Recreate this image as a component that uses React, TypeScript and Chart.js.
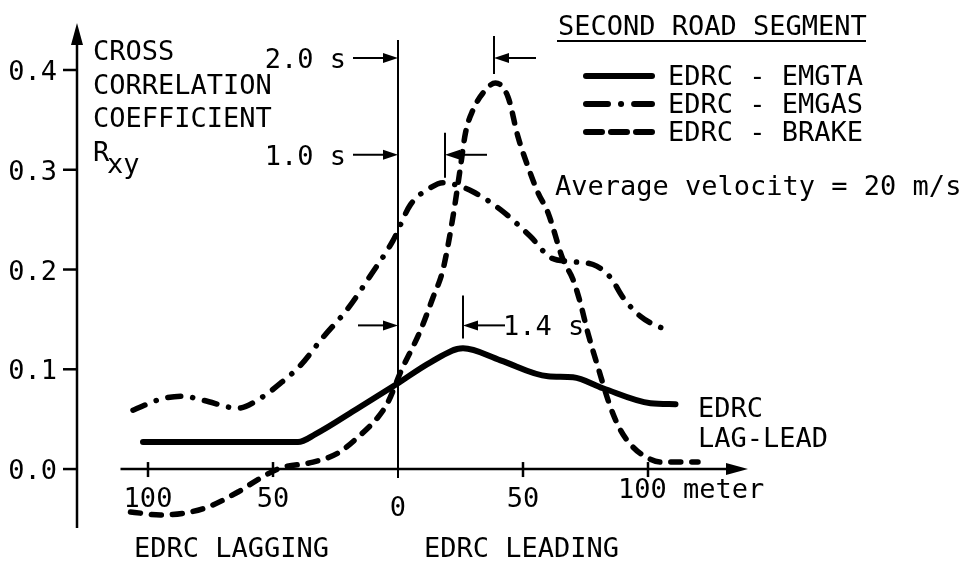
import React, { useEffect, useRef } from "react";
import { Chart, registerables } from "chart.js";
Chart.register(...registerables);

// ---- data (lag in metres, cross-correlation coefficient) ----
const emgtaX = [-102, -40, -33, -16, 0, 13, 26, 41, 60, 70, 82, 101, 111];
const emgtaY = [0.027, 0.027, 0.035, 0.061, 0.086, 0.107, 0.121, 0.109, 0.093, 0.092, 0.081, 0.066, 0.065];

const emgasX = [-106, -95, -86, -78, -64, -55, -47, -39, -30, -20, -11, -2, 5, 13, 18, 23, 30, 41, 53, 61, 69, 78, 85, 90, 97, 105, 108];
const emgasY = [0.059, 0.070, 0.073, 0.069, 0.061, 0.071, 0.086, 0.104, 0.132, 0.161, 0.194, 0.229, 0.265, 0.282, 0.287, 0.285, 0.278, 0.260, 0.233, 0.212, 0.208, 0.205, 0.192, 0.172, 0.153, 0.142, 0.140];

const brakeX = [-107, -95, -85, -76, -64, -55, -47, -34, -24, -16, -8, -4, 1, 9, 14, 18, 22, 25, 27, 30, 34, 39, 44, 48, 52, 56, 60, 66, 70, 73, 76, 80, 85, 89, 94, 100, 105, 120];
const brakeY = [-0.043, -0.046, -0.044, -0.038, -0.023, -0.009, 0.001, 0.007, 0.016, 0.032, 0.052, 0.067, 0.097, 0.139, 0.172, 0.200, 0.253, 0.303, 0.337, 0.360, 0.377, 0.387, 0.373, 0.333, 0.303, 0.277, 0.257, 0.210, 0.190, 0.166, 0.136, 0.102, 0.062, 0.039, 0.022, 0.011, 0.007, 0.007];

const seriesNames = ["EDRC - EMGTA", "EDRC - EMGAS", "EDRC - BRAKE"];

const yTickValues = [0, 0.1, 0.2, 0.3, 0.4];
const yTickLabels = ["0.0", "0.1", "0.2", "0.3", "0.4"];
const xTickValues = [-100, -50, 0, 50, 100];
const xTickLabels = ["100", "50", "0", "50", "100 meter"];

// peak lags marked on the chart
const peakLags = [38.4, 18.8, 26];
const peakLabels = ["2.0 s", "1.0 s", "1.4 s"];
const peakLabelLevels = [0.412, 0.315, 0.144];

const yTitle = ["CROSS", "CORRELATION", "COEFFICIENT"];
const legendTitle = "SECOND ROAD SEGMENT";
const noteText = "Average velocity = 20 m/s";

const FONT_PX = 27;
const FONT = `${FONT_PX}px "DejaVu Sans Mono"`;
const DASH = [10, 11];
const DASHDOT = [13, 12, 0.1, 12];

function zip(xs: number[], ys: number[]) {
  return xs.map((x, i) => ({ x, y: ys[i] }));
}

function txt(ctx: CanvasRenderingContext2D, s: string, x: number, cy: number, align: CanvasTextAlign = "left", font = FONT) {
  ctx.font = font;
  ctx.textAlign = align;
  ctx.textBaseline = "alphabetic";
  ctx.fillText(s, x, cy + 10);
}

function hArrow(ctx: CanvasRenderingContext2D, from: number, to: number, y: number) {
  const dir = to > from ? 1 : -1;
  ctx.lineWidth = 2;
  ctx.setLineDash([]);
  ctx.beginPath();
  ctx.moveTo(from, y);
  ctx.lineTo(to - dir * 10, y);
  ctx.stroke();
  ctx.beginPath();
  ctx.moveTo(to, y);
  ctx.lineTo(to - dir * 15, y - 5);
  ctx.lineTo(to - dir * 15, y + 5);
  ctx.closePath();
  ctx.fill();
}

function vLine(ctx: CanvasRenderingContext2D, x: number, y1: number, y2: number, w = 2) {
  ctx.lineWidth = w;
  ctx.setLineDash([]);
  ctx.beginPath();
  ctx.moveTo(x, y1);
  ctx.lineTo(x, y2);
  ctx.stroke();
}

const axesPlugin = {
  id: "customAxes",
  beforeDatasetsDraw(chart: any) {
    const ctx: CanvasRenderingContext2D = chart.ctx;
    const xs = chart.scales.x;
    const ys = chart.scales.y;
    const area = chart.chartArea;
    ctx.save();
    ctx.strokeStyle = "#000";
    ctx.fillStyle = "#000";
    ctx.lineCap = "butt";
    // y axis
    const ax = area.left;
    vLine(ctx, ax, area.bottom, area.top + 18, 2.5);
    ctx.beginPath();
    ctx.moveTo(ax, area.top - 2);
    ctx.lineTo(ax - 6, area.top + 20);
    ctx.lineTo(ax + 6, area.top + 20);
    ctx.closePath();
    ctx.fill();
    yTickValues.forEach((v, i) => {
      const py = ys.getPixelForValue(v);
      ctx.lineWidth = 2.5;
      ctx.beginPath();
      ctx.moveTo(ax - 14, py);
      ctx.lineTo(ax, py);
      ctx.stroke();
      txt(ctx, yTickLabels[i], ax - 20, py, "right");
    });
    // x axis
    const y0 = ys.getPixelForValue(0);
    const xStart = xs.getPixelForValue(-111);
    const xEnd = area.right;
    ctx.lineWidth = 2.5;
    ctx.beginPath();
    ctx.moveTo(xStart, y0);
    ctx.lineTo(xEnd - 15, y0);
    ctx.stroke();
    ctx.beginPath();
    ctx.moveTo(xEnd, y0);
    ctx.lineTo(xEnd - 22, y0 - 6);
    ctx.lineTo(xEnd - 22, y0 + 6);
    ctx.closePath();
    ctx.fill();
    xTickValues.forEach((v, i) => {
      const px = xs.getPixelForValue(v);
      if (v !== 0) vLine(ctx, px, y0 - 7, y0 + 8, 2.5);
      const lab = xTickLabels[i];
      if (i === xTickLabels.length - 1) {
        txt(ctx, lab, px - 30, y0 + 19, "left");
      } else if (v === 0) {
        txt(ctx, lab, px, y0 + 37, "center");
      } else {
        txt(ctx, lab, px, y0 + 28, "center");
      }
    });
    // zero-lag line
    const zx = xs.getPixelForValue(0);
    vLine(ctx, zx, ys.getPixelForValue(0.43), y0 + 9, 2);
    ctx.restore();
  },
  afterDatasetsDraw(chart: any) {
    const ctx: CanvasRenderingContext2D = chart.ctx;
    const xs = chart.scales.x;
    const ys = chart.scales.y;
    const area = chart.chartArea;
    ctx.save();
    ctx.strokeStyle = "#000";
    ctx.fillStyle = "#000";
    const zx = xs.getPixelForValue(0);

    // y axis title
    const tx = area.left + 16;
    yTitle.forEach((s, i) => txt(ctx, s, tx, ys.getPixelForValue(0.42) + i * 33.5));
    const rY = ys.getPixelForValue(0.42) + 3 * 33.5;
    txt(ctx, "R", tx, rY);
    ctx.font = FONT;
    ctx.textAlign = "left";
    ctx.fillText("xy", tx + 14, rY + 22);

    // peak-lag annotations
    peakLabels.forEach((lab, i) => {
      const py = ys.getPixelForValue(peakLabelLevels[i]);
      const mx = xs.getPixelForValue(peakLags[i]);
      if (i < 2) {
        txt(ctx, lab, zx - 52, py, "right");
        hArrow(ctx, zx - 45, zx, py);
        vLine(ctx, mx, py - 22, py + (i === 0 ? 16 : 23), 2);
        hArrow(ctx, mx + 42, mx, py);
      } else {
        hArrow(ctx, zx - 40, zx, py);
        vLine(ctx, mx, py - 30, py + 13, 2);
        hArrow(ctx, mx + 42, mx, py);
        txt(ctx, lab, mx + 40, py, "left");
      }
    });

    // legend
    const lx = 558;
    txt(ctx, legendTitle, lx, 25);
    ctx.lineWidth = 2;
    ctx.setLineDash([]);
    ctx.beginPath();
    ctx.moveTo(lx - 1, 41);
    ctx.lineTo(lx + 308, 41);
    ctx.stroke();
    const rows = [76, 104, 132];
    const sx1 = 586;
    const sx2 = 652;
    ctx.lineWidth = 6;
    ctx.lineCap = "round";
    rows.forEach((ry, i) => {
      if (i === 0) {
        ctx.setLineDash([]);
      } else if (i === 1) {
        ctx.setLineDash([22, 13, 0.1, 13]);
      } else {
        ctx.setLineDash([16, 9]);
      }
      ctx.beginPath();
      ctx.moveTo(sx1, ry);
      ctx.lineTo(sx2, ry);
      ctx.stroke();
      ctx.setLineDash([]);
      txt(ctx, seriesNames[i], 668, ry - 1);
    });
    ctx.lineCap = "butt";

    txt(ctx, noteText, 555, 185);

    // lag-lead labels
    const y0 = ys.getPixelForValue(0);
    txt(ctx, "EDRC", 698, y0 - 62);
    txt(ctx, "LAG-LEAD", 698, y0 - 32);
    txt(ctx, "EDRC LAGGING", 134, y0 + 78);
    txt(ctx, "EDRC LEADING", 424, y0 + 78);
    ctx.restore();
  },
};

export default function App() {
  const ref = useRef<HTMLCanvasElement>(null);
  useEffect(() => {
    if (!ref.current) return;
    const common = {
      pointRadius: 0,
      borderColor: "#000",
      backgroundColor: "#000",
      fill: false,
      cubicInterpolationMode: "monotone" as const,
      borderCapStyle: "round" as const,
      borderJoinStyle: "round" as const,
    };
    const chart = new Chart(ref.current, {
      type: "line",
      data: {
        datasets: [
          { ...common, label: seriesNames[0], data: zip(emgtaX, emgtaY), borderWidth: 6 },
          { ...common, label: seriesNames[1], data: zip(emgasX, emgasY), borderWidth: 5.5, borderDash: DASHDOT },
          { ...common, label: seriesNames[2], data: zip(brakeX, brakeY), borderWidth: 5.5, borderDash: DASH },
        ],
      },
      options: {
        animation: false,
        responsive: false,
        devicePixelRatio: 1,
        layout: { padding: { left: 77, right: 213, top: 25, bottom: 35 } },
        plugins: { legend: { display: false }, tooltip: { enabled: false } },
        scales: {
          x: { type: "linear", min: -128.4, max: 140, display: false },
          y: { type: "linear", min: -0.0591, max: 0.4451, display: false },
        },
      },
      plugins: [axesPlugin],
    });
    return () => chart.destroy();
  }, []);
  return (
    <div style={{ position: "absolute", left: 0, top: 0, width: 961, height: 563, background: "#fff" }}>
      <canvas ref={ref} width={961} height={563} style={{ width: 961, height: 563, display: "block" }} />
    </div>
  );
}
